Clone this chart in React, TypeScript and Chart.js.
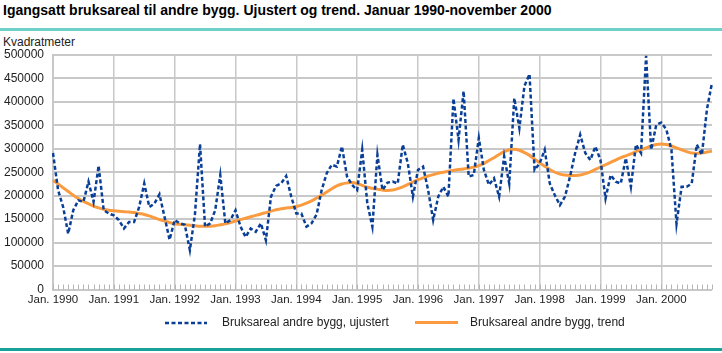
import React, { useEffect, useRef } from "react";
import { Chart, registerables } from "chart.js";

Chart.register(...registerables);

const YEARS = ["1990", "1991", "1992", "1993", "1994", "1995", "1996", "1997", "1998", "1999", "2000"];
const MONTHS = ["01", "02", "03", "04", "05", "06", "07", "08", "09", "10", "11", "12"];
const N_MONTHS = 131; // Jan 1990 - Nov 2000

const UJUSTERT = [
  291000, 212000, 176000, 119000, 169000, 190000, 187000, 230000, 187000, 264000, 169000, 162000,
  158000, 148000, 130000, 144000, 144000, 176000, 226000, 176000, 183000, 203000, 155000, 106000,
  148000, 141000, 138000, 84000, 160000, 310000, 134000, 141000, 169000, 244000, 141000, 148000,
  169000, 134000, 112000, 130000, 123000, 141000, 105000, 198000, 221000, 226000, 242000, 198000,
  162000, 162000, 134000, 141000, 160000, 212000, 248000, 266000, 262000, 305000, 241000, 223000,
  212000, 298000, 184000, 134000, 287000, 212000, 228000, 230000, 226000, 309000, 269000, 198000,
  255000, 262000, 212000, 148000, 198000, 219000, 198000, 407000, 319000, 423000, 241000, 244000,
  323000, 255000, 223000, 237000, 198000, 284000, 226000, 408000, 344000, 434000, 459000, 255000,
  269000, 298000, 226000, 201000, 180000, 198000, 241000, 291000, 330000, 291000, 276000, 305000,
  276000, 194000, 244000, 230000, 226000, 280000, 219000, 309000, 291000, 498000, 298000, 351000,
  356000, 341000, 298000, 140000, 219000, 219000, 226000, 309000, 287000, 384000, 441000,
];

const TREND = [
  233000, 225000, 217000, 209000, 201000, 194000, 188000, 183000, 178000, 174000, 171000, 169000,
  168000, 167000, 166000, 165000, 164000, 162000, 160000, 157000, 153000, 149000, 146000, 143000,
  140000, 139000, 138000, 137000, 136000, 135000, 135000, 135000, 136000, 138000, 140000, 143000,
  146000, 149000, 152000, 155000, 158000, 161000, 164000, 167000, 170000, 172000, 174000, 175000,
  177000, 180000, 184000, 189000, 195000, 201000, 208000, 215000, 221000, 225000, 227000, 228000,
  226000, 222000, 218000, 216000, 214000, 212000, 211000, 212000, 215000, 219000, 224000, 229000,
  234000, 238000, 242000, 245000, 248000, 250000, 252000, 254000, 256000, 257000, 259000, 261000,
  264000, 269000, 275000, 281000, 288000, 294000, 298000, 299000, 297000, 292000, 286000, 278000,
  270000, 263000, 256000, 250000, 246000, 244000, 243000, 243000, 244000, 247000, 251000, 256000,
  261000, 266000, 271000, 276000, 281000, 285000, 289000, 294000, 298000, 302000, 306000, 309000,
  310000, 309000, 306000, 302000, 298000, 294000, 291000, 290000, 291000, 293000, 295000,
];

const Y_TICKS = [0, 50000, 100000, 150000, 200000, 250000, 300000, 350000, 400000, 450000, 500000];

const TITLE = "Igangsatt bruksareal til andre bygg. Ujustert og trend. Januar 1990-november 2000";
const Y_UNIT = "Kvadratmeter";
const SERIES_NAMES = ["Bruksareal andre bygg, ujustert", "Bruksareal andre bygg, trend"];

const BLUE = "#0a3f97";
const ORANGE = "#f99b3e";
const GRID = "#c8c8c8";
const FONT = "'Liberation Sans', Arial, sans-serif";

const LABELS: string[] = [];
YEARS.forEach((y) => MONTHS.forEach((m) => LABELS.push(y + "M" + m)));
LABELS.length = N_MONTHS;

const minorTicks = {
  id: "minorTicks",
  afterDraw(chart: any) {
    const x = chart.scales.x;
    const ctx = chart.ctx;
    const bottom = chart.chartArea.bottom;
    ctx.save();
    ctx.strokeStyle = "#b4b4b4";
    ctx.lineWidth = 1;
    for (let i = 0; i < x.ticks.length; i++) {
      const px = Math.round(x.getPixelForTick(i)) + 0.5;
      ctx.beginPath();
      ctx.moveTo(px, bottom - 5);
      ctx.lineTo(px, bottom);
      ctx.stroke();
    }
    ctx.restore();
  },
};

export default function App() {
  const ref = useRef<HTMLCanvasElement | null>(null);

  useEffect(() => {
    document.body.style.margin = "0";
    const canvas = ref.current;
    if (!canvas) return;
    const chart = new Chart(canvas, {
      type: "line",
      data: {
        labels: LABELS,
        datasets: [
          {
            label: SERIES_NAMES[1],
            data: TREND,
            borderColor: ORANGE,
            borderWidth: 3,
            pointRadius: 0,
            tension: 0.4,
            fill: false,
            order: 2,
          },
          {
            label: SERIES_NAMES[0],
            data: UJUSTERT,
            borderColor: BLUE,
            borderWidth: 2.5,
            borderDash: [4, 2.5],
            pointRadius: 0,
            tension: 0,
            fill: false,
            order: 1,
          },
        ],
      },
      options: {
        responsive: false,
        animation: false,
        devicePixelRatio: 1,
        layout: { padding: { left: 0, right: 10, top: 55, bottom: 43.5 } },
        plugins: { legend: { display: false }, tooltip: { enabled: false } },
        scales: {
          x: {
            type: "category",
            afterFit: (s: any) => {
              s.height = 20;
            },
            grid: {
              drawTicks: false,
              color: (c: any) => (c.index % 12 === 0 ? GRID : "rgba(0,0,0,0)"),
              lineWidth: 1.5,
            },
            border: { display: true, color: GRID, width: 1 },
            ticks: {
              autoSkip: false,
              maxRotation: 0,
              minRotation: 0,
              padding: 3,
              color: "#222",
              font: { family: FONT, size: 11.5 },
              callback: (_v: any, i: number) => (i % 12 === 0 ? "Jan. " + YEARS[i / 12] : ""),
            },
          },
          y: {
            min: 0,
            max: 500000,
            afterFit: (s: any) => {
              s.width = 53;
            },
            afterBuildTicks: (s: any) => {
              s.ticks = Y_TICKS.map((v) => ({ value: v }));
            },
            grid: { drawTicks: false, color: GRID, lineWidth: 2 },
            border: { display: true, color: GRID, width: 2 },
            ticks: {
              padding: 9,
              color: "#222",
              font: { family: FONT, size: 12 },
              callback: (v: any) => String(v),
            },
          },
        },
      },
      plugins: [minorTicks],
    });
    return () => chart.destroy();
  }, []);

  return (
    <div style={{ position: "relative", width: 722, height: 353, background: "#fff", fontFamily: FONT, overflow: "hidden" }}>
      <div style={{ position: "absolute", left: 3, top: 2, fontSize: 14, fontWeight: "bold", color: "#000", whiteSpace: "nowrap", lineHeight: "17px" }}>
        {TITLE}
      </div>
      <div style={{ position: "absolute", left: 0, top: 28, width: 722, height: 3, background: "#6fcfca" }} />
      <div style={{ position: "absolute", left: 3, top: 35, fontSize: 12, color: "#222", lineHeight: "15px" }}>{Y_UNIT}</div>
      <canvas ref={ref} width={722} height={353} style={{ position: "absolute", left: 0, top: 0 }} />
      <svg style={{ position: "absolute", left: 165, top: 320 }} width={42} height={6}>
        <line x1={0} y1={3} x2={42} y2={3} stroke={BLUE} strokeWidth={2.5} strokeDasharray="4 2.5" />
      </svg>
      <div style={{ position: "absolute", left: 222, top: 315, fontSize: 12, color: "#222", lineHeight: "15px", whiteSpace: "nowrap" }}>
        {SERIES_NAMES[0]}
      </div>
      <div style={{ position: "absolute", left: 415, top: 321, width: 43, height: 3, background: ORANGE }} />
      <div style={{ position: "absolute", left: 470, top: 315, fontSize: 12, color: "#222", lineHeight: "15px", whiteSpace: "nowrap" }}>
        {SERIES_NAMES[1]}
      </div>
      <div style={{ position: "absolute", left: 0, top: 348, width: 722, height: 3, background: "#17a39b" }} />
    </div>
  );
}
